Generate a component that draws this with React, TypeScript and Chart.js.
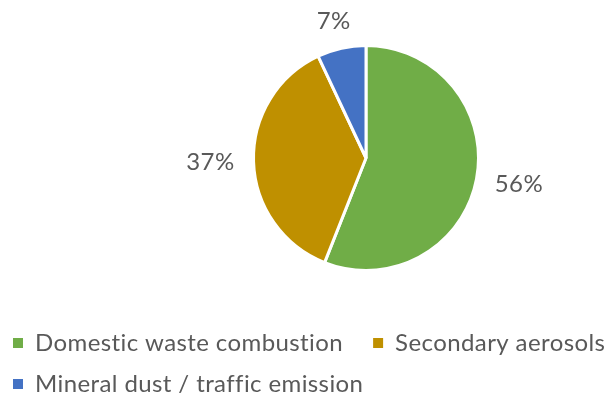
import React, { useEffect, useRef } from 'react';
import { Chart, registerables } from 'chart.js';

Chart.register(...registerables);

const categories = ['Domestic waste combustion', 'Secondary aerosols', 'Mineral dust / traffic emission'];
const shares = [56, 37, 7];
const sliceColors = ['#70AD47', '#BF9000', '#4472C4'];
const shareLabels = shares.map((v) => `${v}%`);

const CANVAS_W = 680;
const CANVAS_H = 407;
const CANVAS_LEFT = -4;
const PIE_CX = 370;
const PIE_CY = 158;
const PIE_R = 114;
const FONT = 'Lato, "Open Sans", sans-serif';
const TEXT_COLOR = '#595959';

const placePie = {
  id: 'placePie',
  afterLayout(chart: any) {
    chart.chartArea = {
      left: PIE_CX - PIE_R,
      right: PIE_CX + PIE_R,
      top: PIE_CY - PIE_R,
      bottom: PIE_CY + PIE_R,
      width: PIE_R * 2,
      height: PIE_R * 2,
    };
  },
};

const textSpacing = {
  id: 'textSpacing',
  beforeUpdate(chart: any) {
    chart.ctx.letterSpacing = '0.4px';
  },
  beforeDraw(chart: any) {
    chart.ctx.letterSpacing = '0.4px';
  },
};

const outsideLabels = {
  id: 'outsideLabels',
  afterDatasetsDraw(chart: any) {
    const ctx = chart.ctx;
    const meta = chart.getDatasetMeta(0);
    ctx.save();
    ctx.letterSpacing = '0.4px';
    ctx.font = `24px ${FONT}`;
    ctx.fillStyle = TEXT_COLOR;
    ctx.textAlign = 'center';
    ctx.textBaseline = 'middle';
    meta.data.forEach((arc: any, i: number) => {
      const p = arc.getProps(['x', 'y', 'startAngle', 'endAngle', 'outerRadius'], true);
      const mid = (p.startAngle + p.endAngle) / 2;
      const c = Math.cos(mid);
      const s = Math.sin(mid);
      const text = shareLabels[i];
      const w = ctx.measureText(text).width;
      const h = 17;
      const gap = 19;
      const x = p.x + (p.outerRadius + gap) * c + (w / 2) * c;
      const y = p.y + (p.outerRadius + gap) * s + (h / 2) * s;
      ctx.fillText(text, x, y);
    });
    ctx.restore();
  },
};

export default function App() {
  const ref = useRef<HTMLCanvasElement | null>(null);

  useEffect(() => {
    if (!ref.current) return;
    const chart = new Chart(ref.current, {
      type: 'pie',
      data: {
        labels: categories,
        datasets: [
          {
            data: shares,
            backgroundColor: sliceColors,
            borderColor: '#ffffff',
            borderWidth: 3,
          },
        ],
      },
      options: {
        responsive: false,
        animation: false,
        layout: { padding: { top: 44, bottom: 1, left: 0, right: 0 } },
        plugins: {
          tooltip: { enabled: false },
          legend: {
            position: 'bottom',
            align: 'start',
            labels: {
              color: TEXT_COLOR,
              font: { family: FONT, size: 24 },
              boxWidth: 10,
              boxHeight: 10,
              padding: 17,
              generateLabels(chart: any) {
                const base = (Chart as any).overrides.pie.plugins.legend.labels.generateLabels(chart);
                return base.map((item: any) => ({
                  ...item,
                  text: item.text + '  ',
                  lineWidth: 0,
                  strokeStyle: 'rgba(0,0,0,0)',
                }));
              },
            },
          },
        },
      },
      plugins: [textSpacing, placePie, outsideLabels],
    });
    return () => chart.destroy();
  }, []);

  return (
    <div
      style={{
        position: 'absolute',
        left: 0,
        top: 0,
        width: 614,
        height: 407,
        overflow: 'hidden',
        background: '#ffffff',
      }}
    >
      <canvas
        ref={ref}
        width={CANVAS_W}
        height={CANVAS_H}
        style={{ position: 'absolute', left: CANVAS_LEFT, top: 0, width: CANVAS_W, height: CANVAS_H }}
      />
    </div>
  );
}
